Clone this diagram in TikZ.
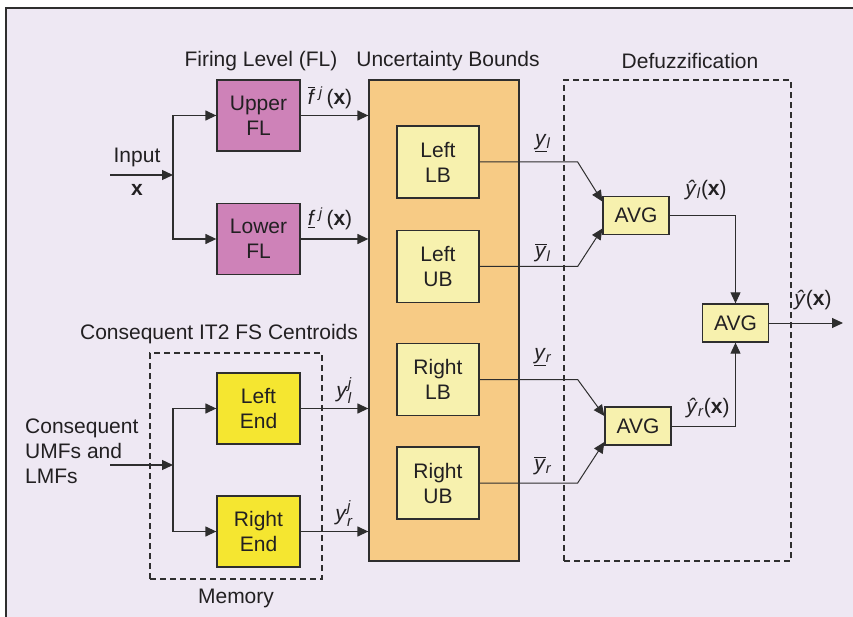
\documentclass[tikz,border=0pt]{standalone}
\usepackage{fontspec}
\setmainfont{Liberation Sans}
\usetikzlibrary{arrows.meta}
\definecolor{bg}{HTML}{EEE8F3}
\definecolor{lc}{HTML}{2E2E2E}
\definecolor{tc}{HTML}{222022}
\definecolor{pinkfl}{HTML}{CE82B8}
\definecolor{orangeub}{HTML}{F7CB85}
\definecolor{lyel}{HTML}{F7F1AE}
\definecolor{byel}{HTML}{F5E630}
\newcommand{\ovb}[1]{\vbox{\hrule height 1.2pt\kern1.5pt\hbox{#1}}}
\newcommand{\supsub}[2]{\makebox[0pt][l]{\raisebox{9pt}{\fontsize{15}{15}\selectfont\textit{#1}}}\raisebox{-6pt}{\fontsize{15}{15}\selectfont\textit{#2}}}
\begin{document}
\begin{tikzpicture}[x=1pt,y=-1pt,
  font=\fontsize{21}{25}\selectfont,
  box/.style={draw=lc, line width=1.3pt, inner sep=0pt, align=center, text=tc},
  flbox/.style={box, fill=pinkfl, minimum width=83pt, minimum height=71pt},
  endbox/.style={box, fill=byel, minimum width=83pt, minimum height=71pt},
  bbox/.style={box, fill=lyel, minimum width=82pt, minimum height=72pt},
  avgbox/.style={box, fill=lyel, minimum width=66pt, minimum height=38pt},
  dbox/.style={draw=lc, line width=1.1pt, dash pattern=on 6pt off 4pt, inner sep=0pt},
  lbl/.style={text=tc, inner sep=1pt},
  conn/.style={draw=lc, line width=1.3pt, -{Triangle[length=11pt,width=10pt]}},
  thin/.style={draw=lc, line width=1pt, -{Triangle[length=11pt,width=10pt]}}]
\clip (0,0) rectangle (853,617);
\fill[white] (0,0) rectangle (853,617);
\draw[fill=bg, draw=lc, line width=1.2pt] (6,8) rectangle (880,650);

% titles
\node[lbl] (tfl) at (261,61) {Firing Level (FL)};
\node[lbl] (tub) at (448,61) {Uncertainty Bounds};
\node[lbl] (tdf) at (690,61) {Defuzzification};
\node[lbl] (tcc) at (219,334) {Consequent IT2 FS Centroids};

% dashed groups
\node[dbox, minimum width=172pt, minimum height=226pt] (mem) at (236,466) {};
\node[dbox, minimum width=227pt, minimum height=481pt] (dfz) at (677.5,320.5) {};
\node[lbl] (tmem) at (236,598) {Memory};

% FL boxes
\node[flbox] (ufl) at (258.5,115.5) {Upper\\FL};
\node[flbox] (lfl) at (258.5,239) {Lower\\FL};
\node[endbox] (lend) at (258.5,408.5) {Left\\End};
\node[endbox] (rend) at (258.5,531.5) {Right\\End};

% uncertainty bounds
\node[box, fill=orangeub, minimum width=150pt, minimum height=481pt] (ub) at (444,320.5) {};
\node[bbox] (llb) at (438,162) {Left\\LB};
\node[bbox] (lub) at (438,266.5) {Left\\UB};
\node[bbox] (rlb) at (438,379.5) {Right\\LB};
\node[bbox] (rub) at (438,483) {Right\\UB};

% AVG
\node[avgbox] (avg1) at (636,215.5) {AVG};
\node[avgbox] (avg2) at (638,426) {AVG};
\node[avgbox] (avg3) at (735.5,323) {AVG};

% input
\node[lbl] (tin) at (137,157) {Input};
\node[lbl] (tx) at (137,190) {\textbf{x}};
\coordinate (in1) at (110,175);
\coordinate (j1) at (173,175);
\draw[conn] (in1) -- (j1);
\draw[conn] (j1) |- (ufl.west);
\draw[conn] (j1) |- (lfl.west);

% consequent
\node[lbl, anchor=west, align=left] (tcons) at (24,451) {Consequent\\UMFs and\\LMFs};
\coordinate (in2) at (110,465);
\coordinate (j2) at (173,465);
\draw[conn] (in2) -- (j2);
\draw[conn] (j2) |- (lend.west);
\draw[conn] (j2) |- (rend.west);

% into UB
\draw[conn] (ufl.east) -- (ufl.east -| ub.west);
\draw[conn] (lfl.east) -- (lfl.east -| ub.west);
\draw[conn] (lend.east) -- (lend.east -| ub.west);
\draw[conn] (rend.east) -- (rend.east -| ub.west);
\node[lbl] (lf1) at (330,98) {\ovb{\textit{f}}\,\textsuperscript{\textit{j}}\,(\textbf{x})};
\node[lbl] (lf2) at (330,219) {\underline{\textit{f}}\,\textsuperscript{\textit{j}}\,(\textbf{x})};
\node[lbl] (lyl) at (344,391) {\textit{y}\supsub{j}{l}};
\node[lbl] (lyr) at (344,514) {\textit{y}\supsub{j}{r}};

% to AVG
\draw[thin] (llb.east) -- ++(98,0) -- ([yshift=14pt]avg1.west);
\draw[thin] (lub.east) -- ++(98,0) -- ([yshift=-13pt]avg1.west);
\draw[thin] (rlb.east) -- ++(98,0) -- ([yshift=10pt]avg2.west);
\draw[thin] (rub.east) -- ++(98,0) -- ([yshift=-16pt]avg2.west);
\node[lbl] (l1) at (543,143) {\underline{\textit{y}}\textsubscript{\textit{l}}};
\node[lbl] (l2) at (543,253) {\ovb{\textit{y}}\textsubscript{\textit{l}}};
\node[lbl] (l3) at (543,357) {\underline{\textit{y}}\textsubscript{\textit{r}}};
\node[lbl] (l4) at (543,466) {\ovb{\textit{y}}\textsubscript{\textit{r}}};

\draw[thin] (avg1.east) -| (avg3.north);
\draw[thin] (avg2.east) -| (avg3.south);
\coordinate (out) at (843,323);
\draw[thin] (avg3.east) -- (out);
\node[lbl] (lh1) at (706,190) {\textit{\^y}\textsubscript{\textit{l}}(\textbf{x})};
\node[lbl] (lh2) at (708,408) {\textit{\^y}\textsubscript{\textit{r}}(\textbf{x})};
\node[lbl] (lh3) at (813,300) {\textit{\^y}(\textbf{x})};
\end{tikzpicture}
\end{document}
